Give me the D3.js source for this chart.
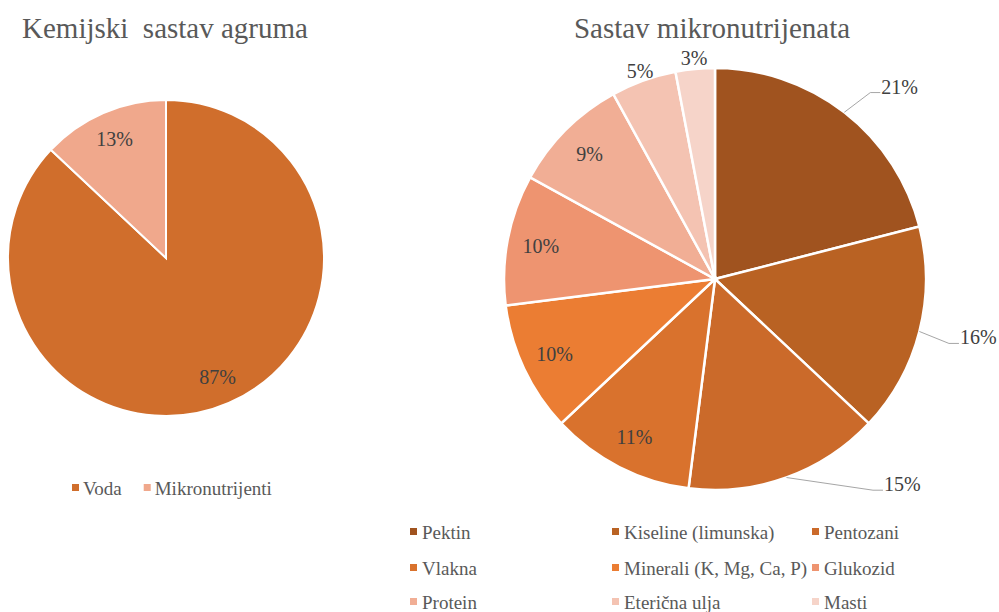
<!DOCTYPE html>
<html>
<head>
<meta charset="utf-8">
<script src="https://cdn.jsdelivr.net/npm/d3@7"></script>
<style>
  body { margin: 0; background: #fff; }
  svg { display: block; }
</style>
</head>
<body>
<div id="chart"></div>
<script>
// Data
const mainCategories = ["Voda", "Mikronutrijenti"];
const mainValues = [87, 13];
const mainColors = ["#D06E2C", "#F0A88C"];

const microCategories = ["Pektin", "Kiseline (limunska)", "Pentozani", "Vlakna",
  "Minerali (K, Mg, Ca, P)", "Glukozid", "Protein", "Eterična ulja", "Masti"];
const microValues = [21, 16, 15, 11, 10, 10, 9, 5, 3];
const microColors = ["#A0531F", "#B96223", "#CB6A2A", "#D9722D", "#EB7D33",
  "#EE9470", "#F1AE95", "#F4C3B2", "#F6D4C9"];

// label placement per slice: "in", "out" (just outside), "callout" (with leader)
const microLabelMode = ["callout", "callout", "callout", "in", "in", "in", "in", "out", "out"];
// callout elbow tweaks: [angle shift in degrees, radius factor]
const calloutNudge = [[2, 1.15], [1, 1.15], [-17, 1.25]];

const W = 999, H = 612;
const TEXT = "#595959", LABEL = "#404040";
const FONT = "'Liberation Serif', 'Times New Roman', 'DejaVu Serif', serif";
const TITLE_SIZE = 29, LABEL_SIZE = 20, LEGEND_SIZE = 19;

const svg = d3.select("#chart").append("svg")
  .attr("width", W).attr("height", H)
  .attr("font-family", FONT)
  .style("font-family", FONT);

const pie = d3.pie().sort(null).value(d => d);

// ---- Left pie
const left = { cx: 166, cy: 258, r: 158 };
svg.append("text")
  .attr("x", 165).attr("y", 38)
  .attr("text-anchor", "middle")
  .attr("font-size", TITLE_SIZE).attr("fill", TEXT)
  .attr("xml:space", "preserve")
  .text("Kemijski  sastav agruma");

const gL = svg.append("g").attr("transform", `translate(${left.cx},${left.cy})`);
const arcL = d3.arc().innerRadius(0).outerRadius(left.r);
const labelArcL = d3.arc().innerRadius(left.r * 0.82).outerRadius(left.r * 0.82);
const arcsL = pie(mainValues);

gL.selectAll("path").data(arcsL).join("path")
  .attr("d", arcL)
  .attr("fill", (d, i) => mainColors[i])
  .attr("stroke", "#fff").attr("stroke-width", 2);

gL.selectAll("text").data(arcsL).join("text")
  .attr("transform", d => `translate(${labelArcL.centroid(d)})`)
  .attr("text-anchor", "middle").attr("dy", "0.35em")
  .attr("font-size", LABEL_SIZE).attr("fill", LABEL)
  .text(d => d.data + "%");

// left legend
const legL = svg.append("g").attr("transform", "translate(72,488)");
let lx = 0;
mainCategories.forEach((c, i) => {
  const item = legL.append("g").attr("transform", `translate(${lx},0)`);
  item.append("rect").attr("x", 0).attr("y", -4).attr("width", 7).attr("height", 7)
    .attr("fill", mainColors[i]);
  const t = item.append("text").attr("x", 11).attr("dy", "0.35em")
    .attr("font-size", LEGEND_SIZE).attr("fill", TEXT).text(c);
  lx += 11 + t.node().getComputedTextLength() + 22;
});

// ---- Right pie
const right = { cx: 715, cy: 279, r: 211 };
svg.append("text")
  .attr("x", 712).attr("y", 38)
  .attr("text-anchor", "middle")
  .attr("font-size", TITLE_SIZE).attr("fill", TEXT)
  .text("Sastav mikronutrijenata");

const gR = svg.append("g").attr("transform", `translate(${right.cx},${right.cy})`);
const arcR = d3.arc().innerRadius(0).outerRadius(right.r);
const arcsR = pie(microValues);

gR.selectAll("path").data(arcsR).join("path")
  .attr("d", arcR)
  .attr("fill", (d, i) => microColors[i])
  .attr("stroke", "#fff").attr("stroke-width", 2.5);

const polar = (ang, rad) => [Math.sin(ang) * rad, -Math.cos(ang) * rad];

arcsR.forEach((d, i) => {
  const mid = (d.startAngle + d.endAngle) / 2;
  const mode = microLabelMode[i];
  const txt = d.data + "%";
  if (mode === "in") {
    const [x, y] = polar(mid, right.r * 0.84);
    gR.append("text").attr("x", x).attr("y", y)
      .attr("text-anchor", "middle").attr("dy", "0.35em")
      .attr("font-size", LABEL_SIZE).attr("fill", LABEL).text(txt);
  } else if (mode === "out") {
    const [x, y] = polar(mid, right.r * 1.05);
    gR.append("text").attr("x", x).attr("y", y)
      .attr("text-anchor", "middle").attr("dy", "0.35em")
      .attr("font-size", LABEL_SIZE).attr("fill", LABEL).text(txt);
  } else {
    const [shift, rf] = calloutNudge[i];
    const p0 = polar(mid, right.r);
    const p1 = polar(mid + shift * Math.PI / 180, right.r * rf);
    const p2 = [p1[0] + 10, p1[1]];
    gR.append("polyline")
      .attr("points", [p0, p1, p2].map(p => p.join(",")).join(" "))
      .attr("fill", "none").attr("stroke", "#A6A6A6").attr("stroke-width", 1);
    gR.append("text").attr("x", p2[0] + 1).attr("y", p2[1] - 6)
      .attr("dy", "0.35em")
      .attr("font-size", LABEL_SIZE).attr("fill", LABEL).text(txt);
  }
});

// right legend: 3 columns x 3 rows
const legColX = [410, 612, 812];
const legRowY = [532, 568, 602];
const legR = svg.append("g");
microCategories.forEach((c, i) => {
  const x = legColX[i % 3], y = legRowY[Math.floor(i / 3)];
  legR.append("rect").attr("x", x).attr("y", y - 4).attr("width", 7).attr("height", 7)
    .attr("fill", microColors[i]);
  legR.append("text").attr("x", x + 12).attr("y", y).attr("dy", "0.35em")
    .attr("font-size", LEGEND_SIZE).attr("fill", TEXT).text(c);
});
</script>
</body>
</html>
